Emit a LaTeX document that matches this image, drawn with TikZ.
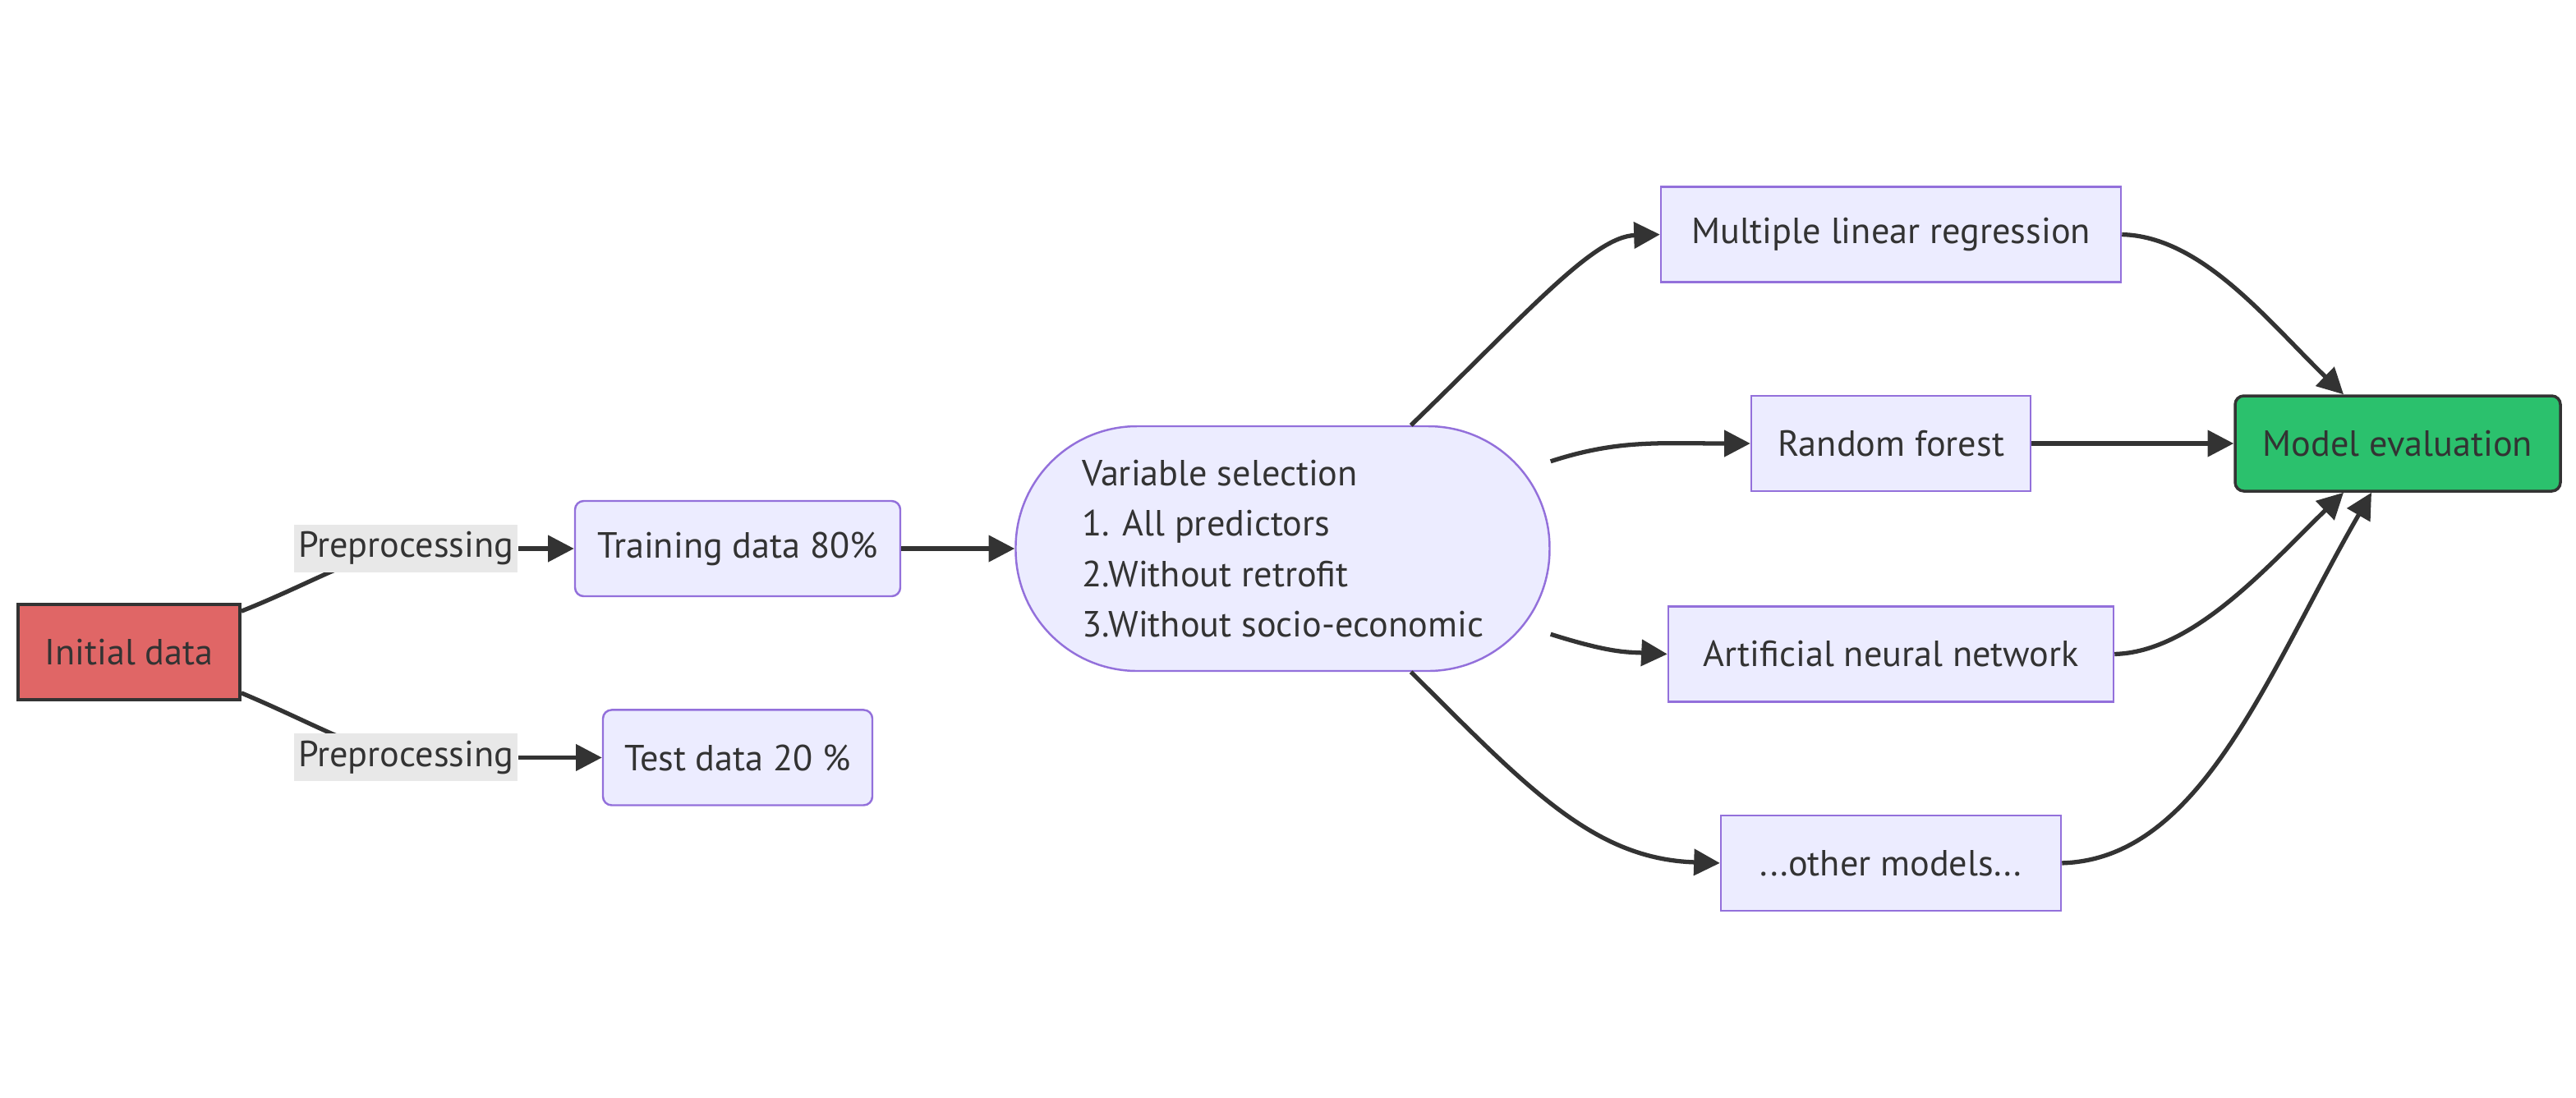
\documentclass[tikz,border=0pt]{standalone}
\usepackage{fontspec}
\setmainfont{PT Sans}
\usetikzlibrary{arrows.meta,positioning,calc,backgrounds}
\definecolor{boxfill}{HTML}{ECECFF}
\definecolor{boxline}{HTML}{9370DB}
\definecolor{inkgray}{HTML}{333333}
\definecolor{labelfill}{HTML}{E8E8E8}
\definecolor{startfill}{HTML}{E06666}
\definecolor{endfill}{HTML}{2BC16D}

\begin{document}
\begin{tikzpicture}[
  box/.style={draw=boxline, fill=boxfill, line width=0.7pt, minimum height=1.16cm,
              inner sep=0pt, text=inkgray, font=\fontsize{12.6}{17.4}\selectfont},
  keybox/.style={box, draw=inkgray, line width=1pt},
  lbl/.style={fill=labelfill, minimum width=2.72cm, minimum height=0.58cm, inner sep=0pt,
              text=inkgray, font=\fontsize{12.6}{16}\selectfont},
  ln/.style={line width=1.5pt, inkgray},
  arr/.style={ln, -{Triangle[length=9pt,width=9pt]}}
]
  \useasboundingbox (0,0) rectangle (31.36,-13.36);

  \node[keybox, fill=startfill, minimum width=2.70cm] (init) at (1.57,-7.94) {Initial data};
  \node[box, rounded corners=3pt, minimum width=3.96cm] (train) at (8.98,-6.68) {Training data 80\%};
  \node[box, rounded corners=3pt, minimum width=3.28cm, below=1.36cm of train] (test) {Test data 20 \%};
  \node[lbl, left=0.68cm of train] (pre1) {Preprocessing};
  \node[lbl, left=1.02cm of test]  (pre2) {Preprocessing};
  \node[box, rounded corners=1.48cm, minimum width=6.50cm, minimum height=2.98cm,
        align=left, right=1.38cm of train] (vs)
        {Variable selection\\1. All predictors\\2.Without retrofit\\3.Without socio-economic};
  \node[box, minimum width=3.40cm] (rf) at (23.02,-5.40) {Random forest};
  \node[box, minimum width=5.60cm, above=1.36cm of rf] (mlr) {Multiple linear regression};
  \node[box, minimum width=5.42cm, below=1.38cm of rf] (ann) {Artificial neural network};
  \node[box, minimum width=4.14cm, below=1.36cm of ann] (other) {...other models...};
  \node[keybox, fill=endfill, rounded corners=3pt, minimum width=3.96cm, right=2.46cm of rf] (me) {Model evaluation};

  \begin{scope}[on background layer]
    \draw[ln] ([yshift=-1mm]init.north east) .. controls (3.8,-7.1) and (4.4,-6.72) .. (pre1.center);
    \draw[ln] ([yshift=1mm]init.south east) .. controls (3.8,-8.8) and (4.4,-9.16) .. (pre2.center);
  \end{scope}
  \draw[arr] (pre1) -- (train);
  \draw[arr] (pre2) -- (test);
  \draw[arr] (train) -- (vs);

  \draw[arr] ($(vs.north east)+(-1.70,0)$) .. controls (18.6,-3.8) and (19.4,-2.88) .. (mlr.west);
  \draw[arr] ([yshift=-4.4mm]vs.north east) .. controls (19.7,-5.35) and (20.2,-5.40) .. (rf.west);
  \draw[arr] ([yshift=4.6mm]vs.south east) .. controls (19.6,-7.95) and (19.8,-7.94) .. (ann.west);
  \draw[arr] ($(vs.south east)+(-1.70,0)$) .. controls (18.6,-9.6) and (19.4,-10.46) .. (other.west);

  \draw[arr] (mlr.east) .. controls (26.8,-2.88) and (27.6,-3.9) .. ([xshift=-6.6mm]me.north);
  \draw[arr] (rf) -- (me);
  \draw[arr] (ann.east) .. controls (26.7,-7.94) and (27.6,-6.9) .. ([xshift=-6.6mm]me.south);
  \draw[arr] (other.east) .. controls (26.8,-10.46) and (27.6,-8.2) .. ([xshift=-3.2mm]me.south);
\end{tikzpicture}
\end{document}
